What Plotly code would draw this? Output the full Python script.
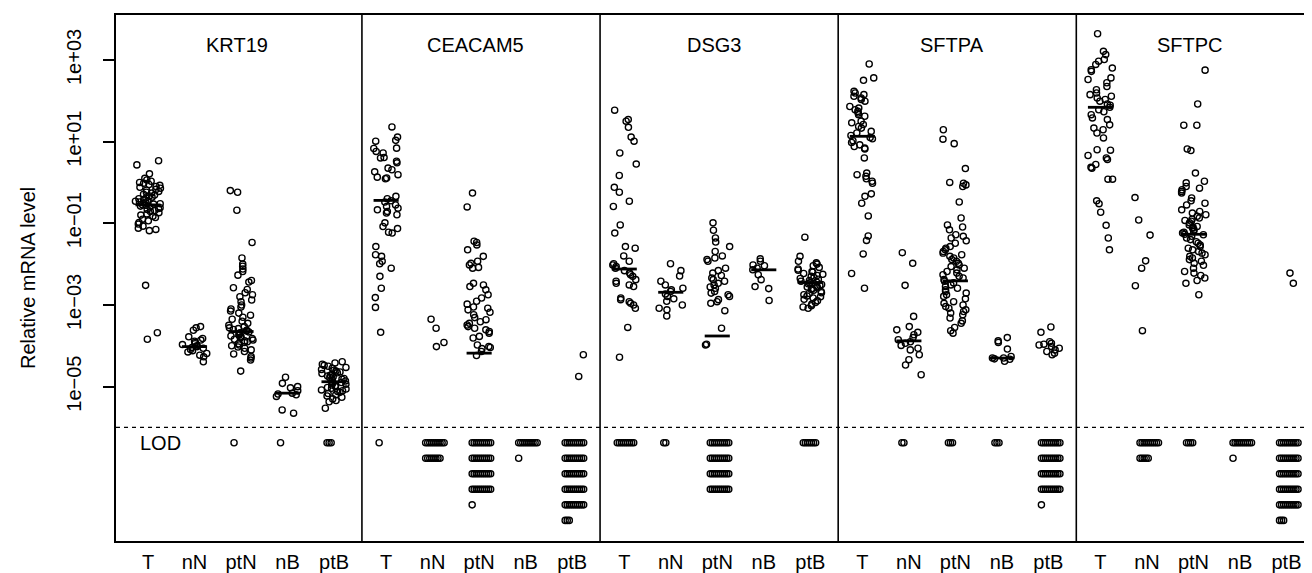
import math
import plotly.graph_objects as go

# ---------------- data (log10 of relative mRNA level) ----------------
GENES = ["KRT19", "CEACAM5", "DSG3", "SFTPA", "SFTPC"]
GROUPS = ["T", "nN", "ptN", "nB", "ptB"]

KRT19_T = [0.53, 0.43, 0.21, 0.10, 0.06, 0.03, 0.0, -0.02, -0.05, -0.07, -0.1, -0.12, -0.14, -0.17, -0.19,
           -0.22, -0.24, -0.26, -0.29, -0.31, -0.33, -0.36, -0.38, -0.4, -0.42, -0.44, -0.46, -0.48, -0.5,
           -0.52, -0.53, -0.55, -0.56, -0.58, -0.6, -0.62, -0.64, -0.66, -0.69, -0.71, -0.74, -0.77, -0.8,
           -0.83, -0.86, -0.9, -0.94, -0.98, -1.02, -1.07, -1.12, -1.15, -1.18, -2.52, -3.68, -3.84]
KRT19_nN = [-3.53, -3.56, -3.62, -3.78, -3.82, -3.86, -3.89, -3.92, -3.95, -3.97, -4.0, -4.02, -4.04,
            -4.06, -4.09, -4.12, -4.15, -4.19, -4.23, -4.27, -4.39]
KRT19_ptN = [-0.20, -0.24, -0.68, -1.47, -1.85, -2.0, -2.05, -2.12, -2.18, -2.27, -2.40, -2.44, -2.58,
             -2.62, -2.7, -2.75, -2.8, -2.88, -2.92, -3.0, -3.05, -3.1, -3.15, -3.2, -3.25, -3.3, -3.35,
             -3.4, -3.45, -3.5, -3.53, -3.56, -3.58, -3.6, -3.62, -3.64, -3.66, -3.68, -3.7, -3.72, -3.74,
             -3.76, -3.78, -3.8, -3.82, -3.84, -3.86, -3.88, -3.9, -3.92, -3.95, -3.98, -4.0, -4.03, -4.06,
             -4.1, -4.14, -4.2, -4.26, -4.3, -4.35, -4.62]
KRT19_nB = [-4.77, -4.92, -5.0, -5.03, -5.1, -5.16, -5.18, -5.2, -5.24, -5.57, -5.65]
KRT19_ptB = [-4.39, -4.42, -4.45, -4.48, -4.5, -4.53, -4.55, -4.58, -4.6, -4.62, -4.64, -4.66, -4.68,
             -4.7, -4.72, -4.74, -4.76, -4.78, -4.8, -4.82, -4.84, -4.86, -4.88, -4.9, -4.92, -4.94, -4.96,
             -4.98, -5.0, -5.02, -5.04, -5.06, -5.08, -5.1, -5.12, -5.14, -5.17, -5.2, -5.23, -5.26, -5.3,
             -5.34, -5.37, -5.53]

CEACAM5_T = [1.36, 1.11, 1.03, 1.01, 0.84, 0.83, 0.76, 0.72, 0.61, 0.6, 0.52, 0.48, 0.35, 0.31, 0.26,
             0.19, 0.13, 0.11, 0.09, -0.34, -0.4, -0.45, -0.48, -0.55, -0.59, -0.63, -0.67, -0.71, -0.75,
             -0.79, -0.99, -1.08, -1.13, -1.22, -1.24, -1.57, -1.77, -1.81, -1.93, -1.99, -2.1, -2.3,
             -2.59, -2.82, -3.06, -3.67]
CEACAM5_nN = [-3.35, -3.57, -3.92, -4.02]
CEACAM5_ptN = [-0.26, -0.6, -1.44, -1.47, -1.53, -1.65, -1.81, -1.93, -1.98, -2.02, -2.08, -2.1, -2.47,
               -2.51, -2.55, -2.63, -2.75, -2.83, -2.91, -2.98, -3.05, -3.08, -3.12, -3.18, -3.24, -3.31,
               -3.36, -3.41, -3.45, -3.49, -3.53, -3.57, -3.61, -3.65, -3.69, -3.77, -3.81, -3.98, -4.02,
               -4.04, -4.07, -4.14, -4.24]
CEACAM5_nB = []
CEACAM5_ptB = [-4.22, -4.75]

DSG3_T = [1.77, 1.54, 1.50, 1.35, 1.11, 1.01, 0.72, 0.45, 0.17, -0.12, -0.24, -0.46, -0.59, -1.04, -1.24,
          -1.57, -1.61, -1.80, -1.93, -1.99, -2.02, -2.06, -2.1, -2.16, -2.22, -2.26, -2.3, -2.38, -2.42,
          -2.47, -2.51, -2.55, -2.83, -2.87, -2.92, -2.96, -3.0, -3.08, -3.55, -4.28]
DSG3_nN = [-1.99, -2.16, -2.29, -2.42, -2.51, -2.59, -2.63, -2.67, -2.73, -2.79, -2.85, -2.91, -3.0,
           -3.08, -3.12, -3.27]
DSG3_ptN = [-0.99, -1.17, -1.36, -1.46, -1.57, -1.69, -1.80, -1.85, -1.89, -1.93, -2.1, -2.16, -2.22,
            -2.28, -2.34, -2.38, -2.42, -2.47, -2.51, -2.56, -2.59, -2.67, -2.71, -2.75, -2.79, -2.87,
            -2.92, -2.96, -3.14, -3.57, -3.96, -3.98]
DSG3_nB = [-1.87, -1.93, -2.02, -2.04, -2.1, -2.14, -2.26, -2.38, -2.55, -2.6, -2.89]
DSG3_ptB = [-1.34, -1.81, -1.93, -1.97, -2.0, -2.04, -2.08, -2.12, -2.15, -2.18, -2.2, -2.23, -2.25,
            -2.28, -2.3, -2.33, -2.35, -2.37, -2.4, -2.42, -2.44, -2.46, -2.48, -2.5, -2.52, -2.54,
            -2.56, -2.58, -2.6, -2.62, -2.64, -2.67, -2.7, -2.72, -2.75, -2.78, -2.8, -2.83, -2.86,
            -2.9, -2.94, -2.98, -3.02, -3.05, -3.08]

SFTPA_T = [2.90, 2.56, 2.50, 2.23, 2.19, 2.15, 2.11, 2.07, 2.03, 1.99, 1.86, 1.82, 1.78, 1.74, 1.70,
           1.66, 1.62, 1.5, 1.46, 1.42, 1.37, 1.33, 1.25, 1.21, 1.15, 1.10, 1.07, 1.02, 0.98, 0.92, 0.88,
           0.84, 0.82, 0.6, 0.23, 0.19, 0.15, 0.09, 0.03, -0.02, -0.28, -0.34, -0.51, -0.82, -1.31,
           -1.42, -1.75, -2.23, -2.59]
SFTPA_nN = [-1.72, -1.98, -2.52, -3.28, -3.53, -3.61, -3.67, -3.73, -3.8, -3.85, -3.9, -3.94, -3.99,
            -4.06, -4.1, -4.22, -4.34, -4.47, -4.71]
SFTPA_ptN = [1.29, 1.06, 0.95, 0.34, 0.0, -0.02, -0.06, -0.1, -0.48, -0.87, -1.04, -1.09, -1.16, -1.28,
             -1.32, -1.36, -1.43, -1.49, -1.57, -1.61, -1.65, -1.69, -1.73, -1.77, -1.81, -1.85, -1.89,
             -1.93, -1.98, -2.02, -2.06, -2.1, -2.14, -2.18, -2.22, -2.26, -2.3, -2.34, -2.38, -2.42,
             -2.46, -2.51, -2.55, -2.59, -2.63, -2.67, -2.71, -2.75, -2.79, -2.85, -2.92, -2.96, -3.0,
             -3.04, -3.08, -3.12, -3.16, -3.2, -3.24, -3.32, -3.39, -3.45, -3.55, -3.63, -3.69]
SFTPA_nB = [-3.8, -3.88, -3.92, -4.08, -4.26, -4.3, -4.3, -4.32, -4.33, -4.38]
SFTPA_ptB = [-3.54, -3.67, -3.9, -3.94, -3.96, -3.98, -4.02, -4.06, -4.1, -4.14, -4.18, -4.22]

SFTPC_T = [3.64, 3.21, 3.13, 3.01, 2.97, 2.89, 2.80, 2.76, 2.72, 2.56, 2.52, 2.44, 2.35, 2.27, 2.19,
           2.15, 2.11, 2.07, 2.03, 1.99, 1.92, 1.89, 1.84, 1.78, 1.73, 1.66, 1.58, 1.54, 1.41, 1.33,
           1.29, 1.21, 1.09, 0.80, 0.79, 0.66, 0.6, 0.56, 0.44, 0.37, 0.35, 0.08, 0.08, -0.45, -0.52,
           -0.73, -1.05, -1.36, -1.65]
SFTPC_nN = [-0.37, -0.92, -1.29, -1.92, -2.10, -2.53, -3.63]
SFTPC_ptN = [2.75, 1.92, 1.40, 1.40, 0.82, 0.78, 0.23, 0.03, -0.01, -0.10, -0.14, -0.18, -0.22, -0.26,
             -0.38, -0.45, -0.51, -0.55, -0.67, -0.71, -0.75, -0.79, -0.83, -0.87, -0.9, -0.93, -0.95,
             -0.99, -1.04, -1.08, -1.1, -1.12, -1.16, -1.2, -1.22, -1.24, -1.27, -1.28, -1.32, -1.36,
             -1.4, -1.45, -1.49, -1.53, -1.57, -1.61, -1.65, -1.69, -1.73, -1.77, -1.81, -1.85, -1.89,
             -1.93, -1.98, -2.03, -2.1, -2.18, -2.22, -2.28, -2.34, -2.4, -2.47, -2.75]
SFTPC_nB = []
SFTPC_ptB = [-2.22, -2.47]

# number of samples below the limit of detection (per group T, nN, ptN, nB, ptB)
LOD_KRT19 = [0, 0, 1, 1, 3]
LOD_CEACAM5 = [1, 18, 41, 11, 53]
LOD_DSG3 = [9, 2, 40, 0, 7]
LOD_SFTPA = [0, 2, 3, 3, 41]
LOD_SFTPC = [0, 15, 4, 11, 53]

# group medians (log10), None = no median drawn
MED_KRT19 = [-0.55, -4.02, -3.65, -5.16, -4.88]
MED_CEACAM5 = [-0.44, None, -4.18, None, None]
MED_DSG3 = [-2.12, -2.69, -3.76, -2.14, -2.45]
MED_SFTPA = [1.13, -3.88, -2.41, -4.30, None]
MED_SFTPC = [1.84, None, -1.27, None, None]

LOD_LEVEL = 1e-6
Y_TICKS = [1e-5, 1e-3, 1e-1, 1e1, 1e3]
Y_TICKTEXT = ["1e\u221205", "1e\u221203", "1e\u221201", "1e+01", "1e+03"]

DATA = {
    "KRT19": [KRT19_T, KRT19_nN, KRT19_ptN, KRT19_nB, KRT19_ptB],
    "CEACAM5": [CEACAM5_T, CEACAM5_nN, CEACAM5_ptN, CEACAM5_nB, CEACAM5_ptB],
    "DSG3": [DSG3_T, DSG3_nN, DSG3_ptN, DSG3_nB, DSG3_ptB],
    "SFTPA": [SFTPA_T, SFTPA_nN, SFTPA_ptN, SFTPA_nB, SFTPA_ptB],
    "SFTPC": [SFTPC_T, SFTPC_nN, SFTPC_ptN, SFTPC_nB, SFTPC_ptB],
}
LODS = {"KRT19": LOD_KRT19, "CEACAM5": LOD_CEACAM5, "DSG3": LOD_DSG3, "SFTPA": LOD_SFTPA, "SFTPC": LOD_SFTPC}
MEDS = {"KRT19": MED_KRT19, "CEACAM5": MED_CEACAM5, "DSG3": MED_DSG3, "SFTPA": MED_SFTPA, "SFTPC": MED_SFTPC}

# ---------------- layout constants ----------------
PANEL_STEP = 5.12
JITTER = 0.27
MED_HALF = 0.27
LOD_PER_ROW = 10
LOD_DX = 0.0442
LOD_X0 = -0.15
LOD_ROW0 = -6.375   # log10 position of first LOD row
LOD_ROW_STEP = 0.38
X_MIN, X_MAX = -0.688, 25.2
Y_MIN, Y_MAX = -8.78, 4.10
FONT = "Liberation Sans, Arial, Helvetica, sans-serif"


def center(p, g):
    return p * PANEL_STEP + g


def jit(i, g, p):
    # deterministic scatter offset in [-1, 1] (visual jitter only)
    s = math.sin((i + 1) * 12.9898 + g * 78.233 + p * 37.719) * 43758.5453
    return (s - math.floor(s)) * 2 - 1


px, py = [], []
lx, ly = [], []
mx, my = [], []
for p, gene in enumerate(GENES):
    for g, grp in enumerate(GROUPS):
        c = center(p, g)
        for i, v in enumerate(DATA[gene][g]):
            px.append(c + jit(i, g, p) * JITTER)
            py.append(10 ** v)
        for k in range(LODS[gene][g]):
            r, col = divmod(k, LOD_PER_ROW)
            lx.append(c + LOD_X0 + col * LOD_DX)
            ly.append(10 ** (LOD_ROW0 - r * LOD_ROW_STEP))
        m = MEDS[gene][g]
        if m is not None:
            mx += [c - MED_HALF, c + MED_HALF, None]
            my += [10 ** m, 10 ** m, None]

fig = go.Figure()
marker = dict(symbol="circle-open", size=6.2, color="black", line=dict(width=1.35, color="black"))
fig.add_trace(go.Scatter(x=px, y=py, mode="markers", marker=marker, hoverinfo="skip"))
fig.add_trace(go.Scatter(x=lx, y=ly, mode="markers", marker=marker, hoverinfo="skip"))
fig.add_trace(go.Scatter(x=mx, y=my, mode="lines", line=dict(color="black", width=2.8), hoverinfo="skip"))
fig.add_trace(go.Scatter(x=[X_MIN, X_MAX], y=[LOD_LEVEL, LOD_LEVEL], mode="lines",
                         line=dict(color="black", width=1.3, dash="4px,4px"), hoverinfo="skip"))

shapes = []
for p in range(len(GENES) - 1):
    xb = center(p, 4) + (PANEL_STEP - 4) / 2 + 0.04
    shapes.append(dict(type="line", xref="x", yref="paper", x0=xb, x1=xb, y0=0, y1=1,
                       line=dict(color="black", width=1.6)))

annotations = []
for p, gene in enumerate(GENES):
    annotations.append(dict(x=center(p, 2) - 0.08, y=0.943, xref="x", yref="paper", text=gene,
                            showarrow=False, font=dict(size=20, color="black", family=FONT),
                            xanchor="center", yanchor="middle"))
annotations.append(dict(x=0.27, y=LOD_ROW0, xref="x", yref="y", text="LOD", showarrow=False,
                        font=dict(size=20, color="black", family=FONT), xanchor="center", yanchor="middle"))
annotations.append(dict(x=-0.0731, y=0.5, xref="paper", yref="paper", text="Relative mRNA level",
                        textangle=-90, showarrow=False, font=dict(size=20, color="black", family=FONT),
                        xanchor="center", yanchor="middle"))

tickvals = [center(p, g) for p in range(len(GENES)) for g in range(len(GROUPS))]
ticktext = [grp for _ in GENES for grp in GROUPS]

fig.update_layout(
    width=1312, height=573,
    margin=dict(l=108, r=0, t=7, b=40),
    paper_bgcolor="white", plot_bgcolor="white",
    showlegend=False,
    shapes=shapes, annotations=annotations,
    font=dict(family=FONT, size=20, color="black"),
    xaxis=dict(range=[X_MIN, X_MAX], tickmode="array", tickvals=tickvals, ticktext=ticktext,
               showgrid=False, zeroline=False, showline=True, mirror=True, linecolor="black",
               linewidth=1.6, ticks="", ticklabelstandoff=2, tickfont=dict(size=20)),
    yaxis=dict(type="log", range=[Y_MIN, Y_MAX], tickmode="array", tickvals=Y_TICKS,
               ticktext=Y_TICKTEXT, tickangle=-90, showgrid=False, zeroline=False, showline=True,
               mirror=False, linecolor="black", linewidth=1.6, ticks="outside", ticklen=11,
               tickwidth=1.6, tickcolor="black", ticklabelstandoff=14, tickfont=dict(size=20)),
)

fig.write_html("out.html")
